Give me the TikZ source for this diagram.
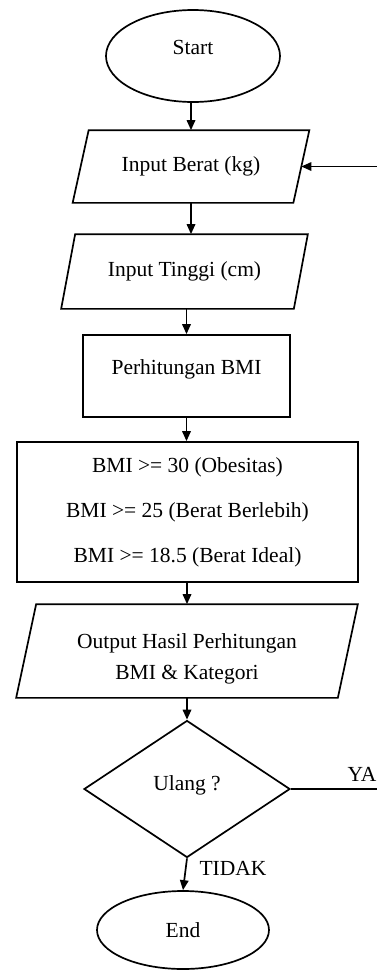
\documentclass[tikz,border=0pt]{standalone}
\usepackage{fontspec}
\setmainfont{Liberation Serif}
\usetikzlibrary{shapes.geometric,arrows.meta}

\begin{document}
\begin{tikzpicture}[x=1pt,y=-1pt,line width=1.7pt,
  every node/.style={font=\fontsize{21.5}{26}\selectfont},
  terminal/.style={draw,ellipse,inner sep=0pt},
  inout/.style={rectangle,inner sep=0pt},
  process/.style={draw,rectangle,inner sep=0pt},
  decision/.style={draw,diamond,inner sep=0pt},
  arrow/.style={-{Triangle[length=10pt,width=8.5pt]}}]
\useasboundingbox (0,0) rectangle (377,970);

\node[terminal,minimum width=174pt,minimum height=92pt,text depth=18pt] (start) at (193,56) {Start};
\node[inout,minimum width=219pt,minimum height=71pt] (berat) at (191,166.5) {Input Berat (kg)};
\node[inout,minimum width=231pt,minimum height=73pt] (tinggi) at (184.5,271.5) {Input Tinggi (cm)};
\node[process,minimum width=207pt,minimum height=82pt,text depth=18pt] (hitung) at (186.5,376) {Perhitungan BMI};
\node[process,minimum width=341pt,minimum height=140pt,align=center,
  font=\fontsize{21.5}{45}\selectfont] (kategori) at (187.5,512)
  {BMI >= 30 (Obesitas)\\BMI >= 25 (Berat Berlebih)\\BMI >= 18.5 (Berat Ideal)};
\node[inout,minimum width=320pt,minimum height=92pt,align=center,
  font=\fontsize{21.5}{31}\selectfont] (output) at (187,651)
  {\mbox{}\\Output Hasil Perhitungan\\BMI \& Kategori};
\node[decision,minimum width=206pt,minimum height=137pt,text depth=12pt] (ulang) at (187,789) {Ulang ?};
\node[terminal,minimum width=172pt,minimum height=78pt] (end) at (183,930) {End};

\node (ya) at (362,774) {YA};
\node (tidak) at (233,868) {TIDAK};
\coordinate (back) at (392,789);

% jajaran genjang input / output
\foreach \n/\s in {berat/8,tinggi/7,output/10}
  \draw ([xshift=\s pt]\n.north west) -- ([xshift=\s pt]\n.north east)
    -- ([xshift=-\s pt]\n.south east) -- ([xshift=-\s pt]\n.south west) -- cycle;

% alur utama
\draw[arrow] (start.south -| berat.north) -- (berat.north);
\draw[arrow] (berat.south) -- (berat.south |- tinggi.north);
\draw[arrow] (tinggi.south -| hitung.north) -- (hitung.north);
\draw[arrow] (hitung.south) -- (hitung.south |- kategori.north);
\draw[arrow] (kategori.south -| output.north) -- (output.north);
\draw[arrow] (output.south) -- (output.south |- ulang.north);
\draw[arrow] (ulang.south) -- (end.north);
% ulang
\draw[arrow] (ulang.east) -- (back) |- (berat.east);

\end{tikzpicture}
\end{document}
